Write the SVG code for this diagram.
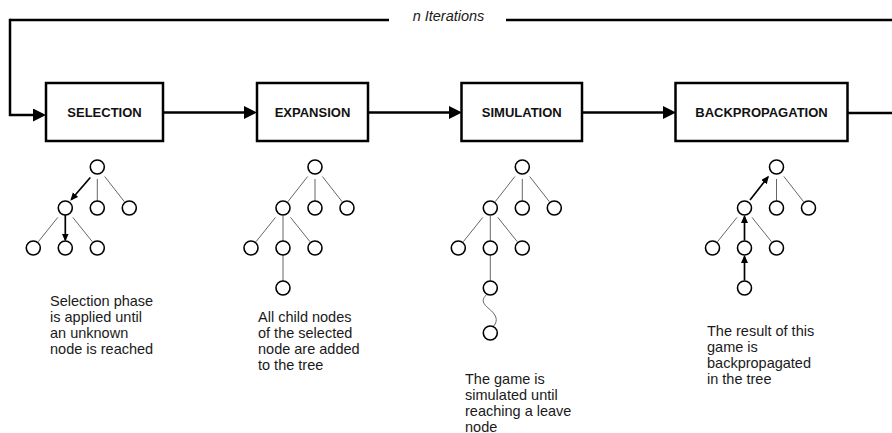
<svg xmlns="http://www.w3.org/2000/svg" width="892" height="433" viewBox="0 0 892 433">
  <style>
    .box { fill: #fff; stroke: #000; stroke-width: 2.5; }
    .label { font-family: "Liberation Sans", Arial, Helvetica, sans-serif; font-size: 13px; font-weight: bold; fill: #111; text-anchor: middle; }
    .flow { fill: none; stroke: #000; stroke-width: 2.5; }
    .note { font-family: "Liberation Sans", Arial, Helvetica, sans-serif; font-size: 14.5px; fill: #1a1a1a; }
    .iter { font-family: "Liberation Sans", Arial, Helvetica, sans-serif; font-size: 14.5px; font-style: italic; fill: #1a1a1a; text-anchor: middle; }
    .node { fill: #fff; stroke: #000; stroke-width: 1.6; }
    .edge { fill: none; stroke: #666; stroke-width: 1; }
    .path { fill: none; stroke: #000; stroke-width: 1.7; }
  </style>
  <defs>
    <marker id="head" markerUnits="userSpaceOnUse" markerWidth="13" markerHeight="13" refX="10" refY="6.5" orient="auto">
      <path d="M0,0 L13,6.5 L0,13 Z" fill="#000"/>
    </marker>
    <marker id="tip" markerUnits="userSpaceOnUse" markerWidth="8" markerHeight="8" refX="6.5" refY="3.5" orient="auto">
      <path d="M0,0 L8,3.5 L0,7 Z" fill="#000"/>
    </marker>
  </defs>

  <!-- flow connectors between phases and the iteration loop -->
  <g id="connectors">
    <path class="flow" d="M10,20 L389,20"/>
    <path class="flow" d="M506,20 L892,20"/>
    <path class="flow" d="M10,18.75 L10,115 L43,115" marker-end="url(#head)"/>
    <path class="flow" d="M163,112.5 L254,112.5" marker-end="url(#head)"/>
    <path class="flow" d="M368,112.5 L459,112.5" marker-end="url(#head)"/>
    <path class="flow" d="M582,112.5 L673,112.5" marker-end="url(#head)"/>
    <path class="flow" d="M848,113 L892,113"/>
    <text class="iter" x="448.5" y="20.5">n Iterations</text>
  </g>

  <!-- phase boxes -->
  <g id="selection">
    <rect class="box" x="46" y="83" width="117" height="58"/>
    <text class="label" x="104.5" y="116.5">SELECTION</text>
  </g>
  <g id="expansion">
    <rect class="box" x="257" y="83" width="111" height="58"/>
    <text class="label" x="312.5" y="116.5">EXPANSION</text>
  </g>
  <g id="simulation">
    <rect class="box" x="461.5" y="83" width="120.5" height="58"/>
    <text class="label" x="521.75" y="116.5">SIMULATION</text>
  </g>
  <g id="backpropagation">
    <rect class="box" x="675.5" y="83" width="172" height="58"/>
    <text class="label" x="761.5" y="116.5">BACKPROPAGATION</text>
  </g>

  <!-- selection tree: descent path marked with arrows -->
  <g id="tree-selection" transform="translate(97.3,0)">
    <path class="path" d="M-7,177.5 L-26,199.5" marker-end="url(#tip)"/>
    <path class="edge" d="M0,179 L0,201"/>
    <path class="edge" d="M7.4,176.5 L27.1,201.7"/>
    <path class="edge" d="M-39.5,217.4 L-59,241.7"/>
    <path class="path" d="M-32,215 L-32,240" marker-end="url(#tip)"/>
    <path class="edge" d="M-24.5,217.4 L-5,241.7"/>
    <circle class="node" cx="0" cy="167" r="7"/>
    <circle class="node" cx="-32" cy="208" r="7"/>
    <circle class="node" cx="0" cy="208" r="7"/>
    <circle class="node" cx="32" cy="208" r="7"/>
    <circle class="node" cx="-64" cy="248" r="7"/>
    <circle class="node" cx="-32" cy="248" r="7"/>
    <circle class="node" cx="0" cy="248" r="7"/>
  </g>
  <text class="note" x="50" y="305.5">
    <tspan x="50">Selection phase</tspan>
    <tspan x="50" dy="16">is applied until</tspan>
    <tspan x="50" dy="16">an unknown</tspan>
    <tspan x="50" dy="16">node is reached</tspan>
  </text>

  <!-- expansion tree: new child added -->
  <g id="tree-expansion" transform="translate(315,0)">
    <path class="edge" d="M-7.4,176.5 L-27.1,201.7"/>
    <path class="edge" d="M0,179 L0,201"/>
    <path class="edge" d="M7.4,176.5 L27.1,201.7"/>
    <path class="edge" d="M-39.5,217.4 L-59,241.7"/>
    <path class="edge" d="M-32,216 L-32,241"/>
    <path class="edge" d="M-24.5,217.4 L-5,241.7"/>
    <path class="edge" d="M-32,255 L-32,281"/>
    <circle class="node" cx="0" cy="167" r="7"/>
    <circle class="node" cx="-32" cy="208" r="7"/>
    <circle class="node" cx="0" cy="208" r="7"/>
    <circle class="node" cx="32" cy="208" r="7"/>
    <circle class="node" cx="-64" cy="248" r="7"/>
    <circle class="node" cx="-32" cy="248" r="7"/>
    <circle class="node" cx="0" cy="248" r="7"/>
    <circle class="node" cx="-32" cy="288" r="7"/>
  </g>
  <text class="note" x="258" y="321.5">
    <tspan x="258">All child nodes</tspan>
    <tspan x="258" dy="16">of the selected</tspan>
    <tspan x="258" dy="16">node are added</tspan>
    <tspan x="258" dy="16">to the tree</tspan>
  </text>

  <!-- simulation tree: random playout to a leaf -->
  <g id="tree-simulation" transform="translate(522.3,0)">
    <path class="edge" d="M-7.4,176.5 L-27.1,201.7"/>
    <path class="edge" d="M0,179 L0,201"/>
    <path class="edge" d="M7.4,176.5 L27.1,201.7"/>
    <path class="edge" d="M-39.5,217.4 L-59,241.7"/>
    <path class="edge" d="M-32,216 L-32,241"/>
    <path class="edge" d="M-24.5,217.4 L-5,241.7"/>
    <path class="edge" d="M-32,255 L-32,281"/>
    <path class="edge" d="M-35.5,294.5 C-42,300 -39,304 -33,309 S-23,320 -29,326.5"/>
    <circle class="node" cx="0" cy="167" r="7"/>
    <circle class="node" cx="-32" cy="208" r="7"/>
    <circle class="node" cx="0" cy="208" r="7"/>
    <circle class="node" cx="32" cy="208" r="7"/>
    <circle class="node" cx="-64" cy="248" r="7"/>
    <circle class="node" cx="-32" cy="248" r="7"/>
    <circle class="node" cx="0" cy="248" r="7"/>
    <circle class="node" cx="-32" cy="288" r="7"/>
    <circle class="node" cx="-32" cy="333" r="7"/>
  </g>
  <text class="note" x="465" y="383.5">
    <tspan x="465">The game is</tspan>
    <tspan x="465" dy="16">simulated until</tspan>
    <tspan x="465" dy="16">reaching a leave</tspan>
    <tspan x="465" dy="16">node</tspan>
  </text>

  <!-- backpropagation tree: result pushed back to the root -->
  <g id="tree-backpropagation" transform="translate(776.5,0)">
    <path class="path" d="M-26.5,200 L-8.5,177" marker-end="url(#tip)"/>
    <path class="edge" d="M0,179 L0,201"/>
    <path class="edge" d="M7.4,176.5 L27.1,201.7"/>
    <path class="edge" d="M-39.5,217.4 L-59,241.7"/>
    <path class="path" d="M-32,240.5 L-32,216.5" marker-end="url(#tip)"/>
    <path class="edge" d="M-24.5,217.4 L-5,241.7"/>
    <path class="path" d="M-32,280.5 L-32,256.5" marker-end="url(#tip)"/>
    <circle class="node" cx="0" cy="167" r="7"/>
    <circle class="node" cx="-32" cy="208" r="7"/>
    <circle class="node" cx="0" cy="208" r="7"/>
    <circle class="node" cx="32" cy="208" r="7"/>
    <circle class="node" cx="-64" cy="248" r="7"/>
    <circle class="node" cx="-32" cy="248" r="7"/>
    <circle class="node" cx="0" cy="248" r="7"/>
    <circle class="node" cx="-32" cy="288" r="7"/>
  </g>
  <text class="note" x="707" y="335.5">
    <tspan x="707">The result of this</tspan>
    <tspan x="707" dy="16">game is</tspan>
    <tspan x="707" dy="16">backpropagated</tspan>
    <tspan x="707" dy="16">in the tree</tspan>
  </text>
</svg>
